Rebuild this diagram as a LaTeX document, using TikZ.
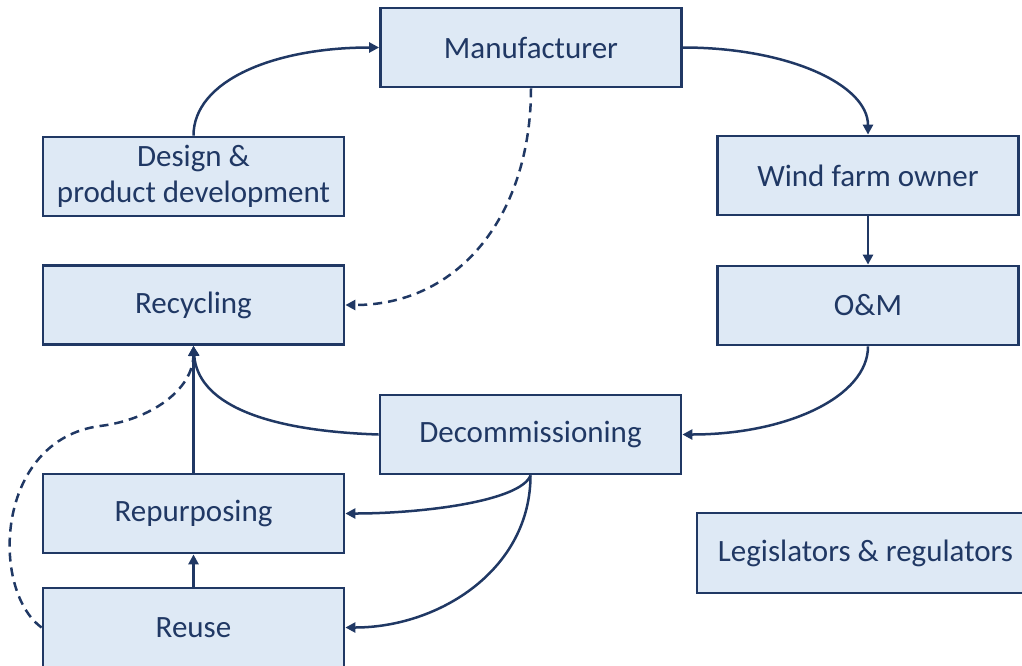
\documentclass[tikz,border=0pt]{standalone}
\usepackage{fontspec}
\setmainfont{Carlito}
\usetikzlibrary{arrows.meta}
\definecolor{navy}{HTML}{203864}
\definecolor{boxfill}{HTML}{DEE9F5}
\begin{document}
\begin{tikzpicture}[x=1pt,y=-1pt,
  box/.style={draw=navy, fill=boxfill, line width=2.8pt, minimum width=301pt, minimum height=79pt,
    inner sep=0pt, text=navy, font=\fontsize{31}{36}\selectfont, align=center},
  conn/.style={draw=navy, line width=2.5pt, -{Triangle[length=10pt,width=10pt]}},
  dconn/.style={conn, dash pattern=on 9pt off 6pt}]
\useasboundingbox (0,0) rectangle (1022,665);
\clip (0,0) rectangle (1022,665);

\node[box] (man) at (531,47.5) {Manufacturer};
\node[box] (des) at (193.5,176.5) {Design \&\\product development};
\node[box] (rec) at (193.5,305) {Recycling};
\node[box] (wfo) at (868,175.5) {Wind farm owner};
\node[box] (om)  at (868,305.5) {O\&M};
\node[box] (dec) at (530.5,434.5) {Decommissioning};
\node[box] (rep) at (193.5,513.5) {Repurposing};
\node[box] (reu) at (193.5,627.5) {Reuse};
\node[box, minimum width=337pt, minimum height=80pt] (leg) at (865.5,553) {Legislators \& regulators};

\draw[conn] (des.north) .. controls +(0,-55) and +(-105,0) .. (man.west);
\draw[conn] (man.east) .. controls +(105,0) and +(0,-50) .. (wfo.north);
\draw[conn] (wfo.south) -- (om.north);
\draw[conn] (om.south) .. controls +(0,50) and +(105,0) .. (dec.east);
\draw[conn] (dec.west) .. controls +(-121,-4) and +(4,55) .. (rec.south);
\draw[conn] (rep.north) -- (rec.south);
\draw[conn] (reu.north) -- (rep.south);
\draw[conn] (dec.south) .. controls +(-10,26) and +(76,0) .. (rep.east);
\draw[conn] (dec.south) .. controls +(0,94) and +(94,0) .. (reu.east);
\draw[dconn] (man.south) .. controls +(0,125) and +(115,0) .. (rec.east);
\draw[dconn] (reu.west) .. controls (-10,590) and (-5,440) .. (100,426)
  .. controls (150,420) and (193,390) .. (rec.south);
\end{tikzpicture}
\end{document}
